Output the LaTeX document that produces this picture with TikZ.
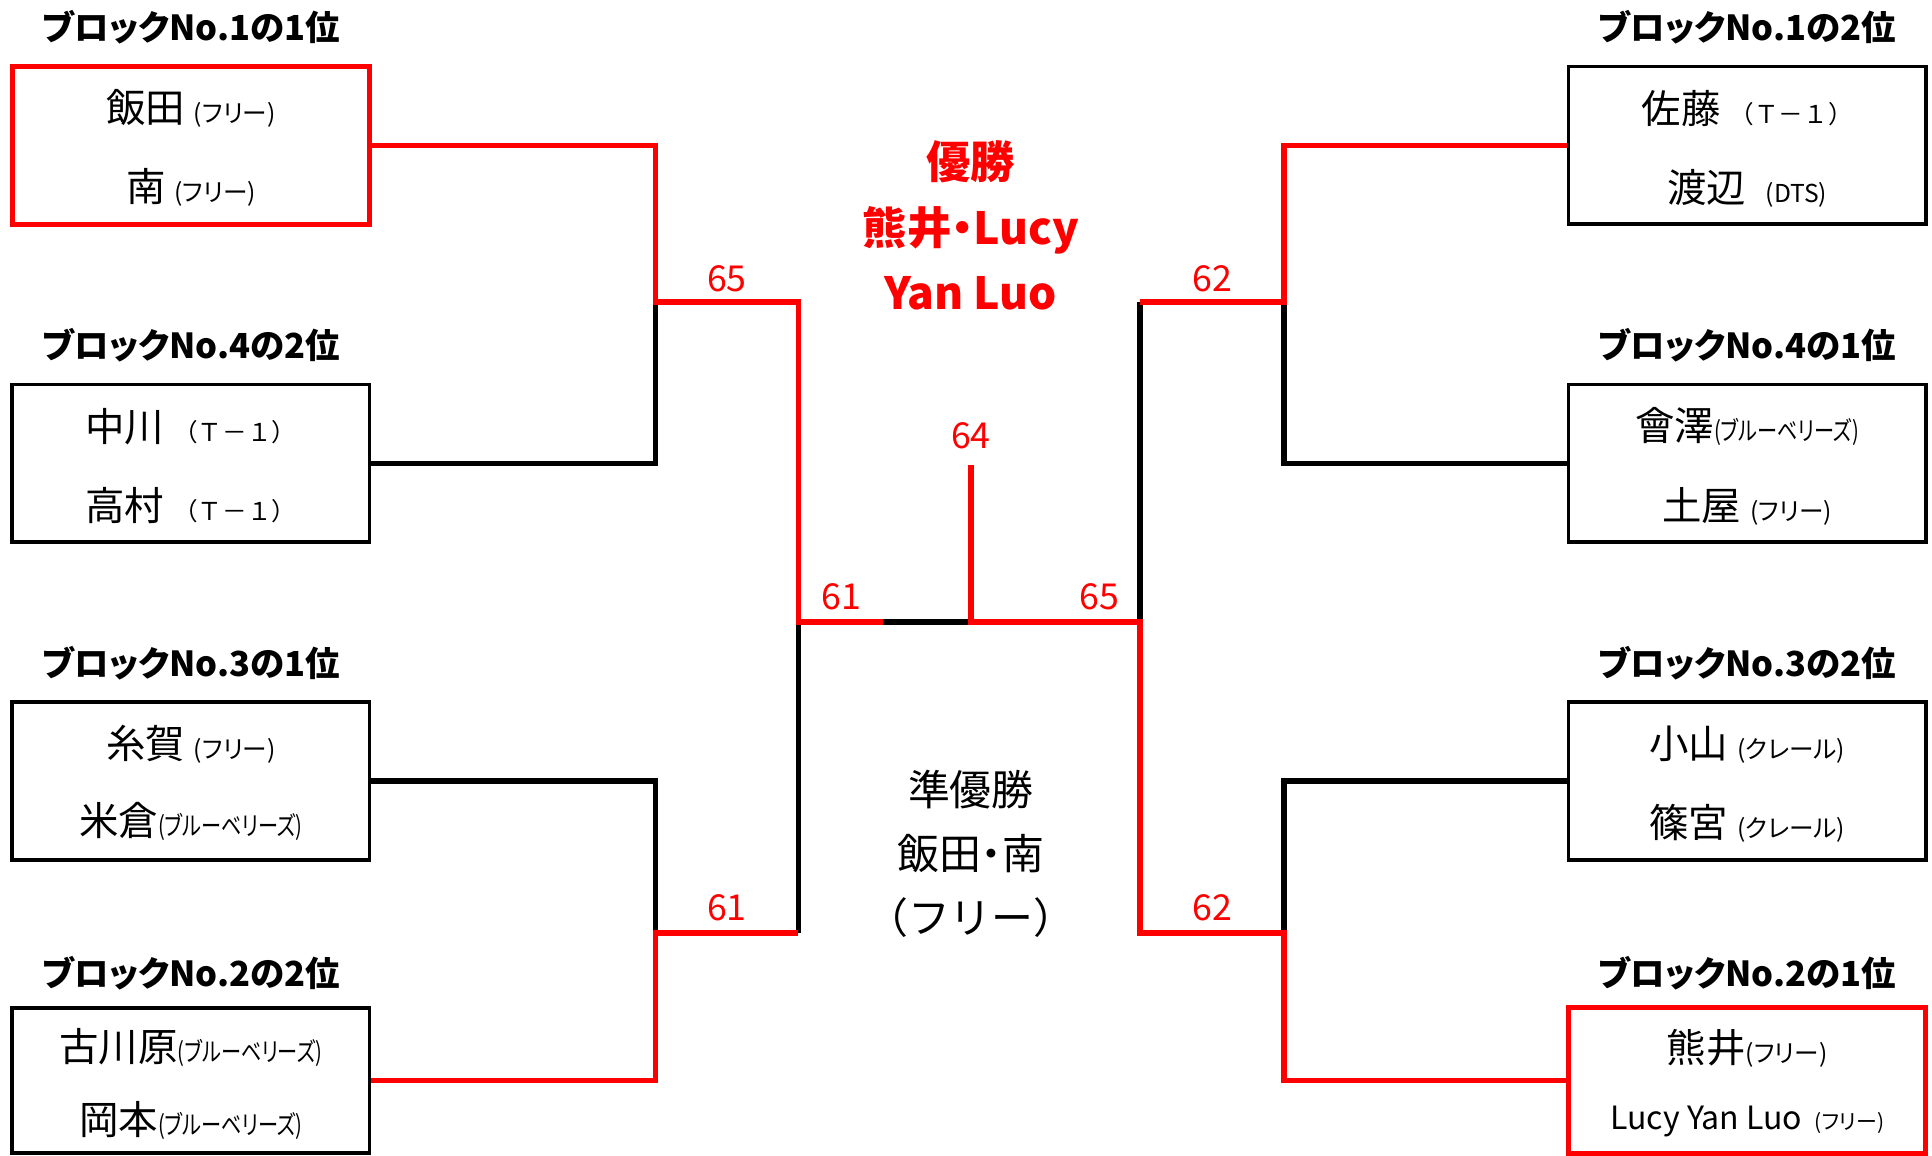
\documentclass[tikz,border=0pt]{standalone}
\usepackage{fontspec}
\setmainfont{Noto Sans CJK JP}[RawFeature=+palt]
\newfontfamily\plainjp{Noto Sans CJK JP}
\newfontfamily\narrowjp{Noto Sans CJK JP}[RawFeature=+palt,FakeStretch=0.78]
\usetikzlibrary{positioning}
\newcommand{\aff}[1]{{\fontsize{20}{24}\selectfont #1}}
\newcommand{\affn}[1]{{\narrowjp\fontsize{21}{24}\selectfont #1}}
\newcommand{\afft}[1]{{\plainjp\fontsize{20}{24}\selectfont #1}}
\begin{document}
\begin{tikzpicture}[x=1pt,y=-1pt,line join=miter,
	team/.style={draw,line width=3pt,minimum width=290pt,minimum height=128pt,inner sep=0pt},
	champbox/.style={team,draw=red,line width=4pt},
	win/.style={draw=red,line width=4.5pt},
	lose/.style={draw=black,line width=4.5pt},
	head/.style={font=\fontsize{28}{32}\selectfont\bfseries},
	player/.style={font=\fontsize{32}{36}\selectfont,inner sep=0pt},
	score/.style={text=red,font=\fontsize{29}{32}\selectfont,inner sep=0pt}]
	\useasboundingbox (0,0) rectangle (1568,938);
	% left side
	\node[head] (hl1) at (155,22) {ブロックNo.1の1位};
	\node[head] (hl2) at (155,280) {ブロックNo.4の2位};
	\node[head] (hl3) at (155,538) {ブロックNo.3の1位};
	\node[head] (hl4) at (155,790) {ブロックNo.2の2位};
	\node[champbox] (l1) at (155,118) {};
	\node[team] (l2) at (155,376) {};
	\node[team] (l3) at (155,634) {};
	\node[team,minimum height=118pt] (l4) at (155,877) {};
	\node[player] (l1a) at (155,88) {飯田 \aff{(フリー)}};
	\node[player] (l1b) at (155,152) {南 \aff{(フリー)}};
	\node[player] (l2a) at (155,346) {中川 \afft{（Ｔ－１）}};
	\node[player] (l2b) at (155,410) {高村 \afft{（Ｔ－１）}};
	\node[player] (l3a) at (155,604) {糸賀 \aff{(フリー)}};
	\node[player] (l3b) at (155,667) {米倉\affn{(ブルーベリーズ)}};
	\node[player] (l4a) at (155,850) {古川原\affn{(ブルーベリーズ)}};
	\node[player] (l4b) at (155,909) {岡本\affn{(ブルーベリーズ)}};
	% right side
	\node[head] (hr1) at (1418,22) {ブロックNo.1の2位};
	\node[head] (hr2) at (1418,280) {ブロックNo.4の1位};
	\node[head] (hr3) at (1418,538) {ブロックNo.3の2位};
	\node[head] (hr4) at (1418,790) {ブロックNo.2の1位};
	\node[team] (r1) at (1418,118) {};
	\node[team] (r2) at (1418,376) {};
	\node[team] (r3) at (1418,634) {};
	\node[champbox,minimum height=118pt] (r4) at (1418,877) {};
	\node[player] (r1a) at (1418,88) {佐藤 \afft{（Ｔ－１）}};
	\node[player] (r1b) at (1418,153) {渡辺 \;\aff{(DTS)}};
	\node[player] (r2a) at (1418,346) {會澤\affn{(ブルーベリーズ)}};
	\node[player] (r2b) at (1418,411) {土屋 \aff{(フリー)}};
	\node[player] (r3a) at (1418,604) {小山 \aff{(クレール)}};
	\node[player] (r3b) at (1418,668) {篠宮 \aff{(クレール)}};
	\node[player] (r4a) at (1418,851) {熊井\aff{(フリー)}};
	\node[player,font=\fontsize{26}{30}\selectfont] (r4b) at (1418,910) {Lucy Yan Luo \,{\fontsize{17}{20}\selectfont(フリー)}};
	% junctions
	\coordinate (ja) at (532,245);
	\coordinate (jb) at (532,757);
	\coordinate (sa) at (648,505);
	\coordinate (mid) at (717,505);
	\coordinate (fin) at (788,505);
	\coordinate (top) at (788,377);
	\coordinate (sb) at (925,505);
	\coordinate (jc) at (1042,245);
	\coordinate (jd) at (1042,757);
	% bracket lines
	\draw[lose] (l2.east) -| (ja);
	\draw[lose] (l3.east) -| (jb);
	\draw[lose] (jb -| sa) -- (sa);
	\draw[lose] (mid) -- (fin);
	\draw[lose] (sb) -- (jc -| sb);
	\draw[lose] (r2.west) -| (jc);
	\draw[lose] (r3.west) -| (jd);
	\draw[win] (l1.east) -| (ja) -- (ja -| sa) -- (sa) -- (mid);
	\draw[win] (l4.east) -| (jb) -- (jb -| sa);
	\draw[win] (top) -- (fin) -- (sb) -- (jd -| sb) -- (jd) |- (r4.west);
	\draw[win] (jc -| sb) -- (jc) |- (r1.west);
	% scores
	\node[score] (s1) at (590,226) {65};
	\node[score] (s2) at (590,737) {61};
	\node[score] (s3) at (683,484) {61};
	\node[score] (s4) at (892,484) {65};
	\node[score] (s5) at (788,354) {64};
	\node[score] (s6) at (984,226) {62};
	\node[score] (s7) at (984,737) {62};
	% results
	\node[align=center,text=red,font=\fontsize{36}{53}\selectfont\bfseries] (champ) at (788,183) {優勝\\熊井・Lucy\\Yan Luo};
	\node[align=center,font=\fontsize{34}{52}\selectfont] (runner) at (788,693) {準優勝\\飯田・南\\{\plainjp （フリー）}};
\end{tikzpicture}
\end{document}
